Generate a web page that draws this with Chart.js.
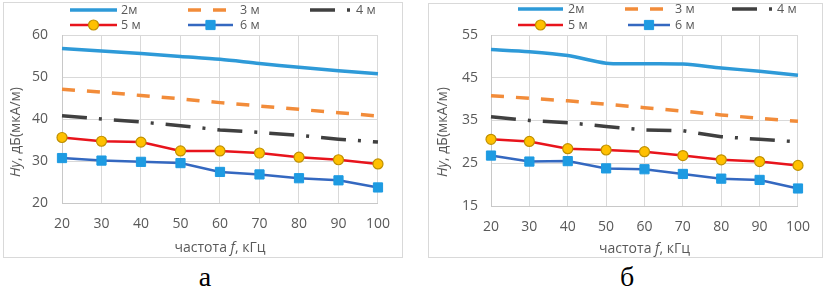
<!DOCTYPE html>
<html>
<head>
<meta charset="utf-8">
<script src="https://cdn.jsdelivr.net/npm/chart.js@4"></script>
<style>
  body { margin: 0; background: #fff; width: 827px; height: 289px; overflow: hidden; position: relative; }
  .box { position: absolute; border: 1px solid #d9d9d9; box-sizing: border-box; }
  canvas { position: absolute; }
  .cap { position: absolute; font-family: "Liberation Serif", serif; font-size: 28px; line-height: 1; width: 40px; text-align: center; color: #000; }
</style>
</head>
<body>
<div class="box" style="left:3px;top:2px;width:400px;height:256px"></div>
<div class="box" style="left:428px;top:3px;width:395px;height:255px"></div>
<canvas id="chartA" width="400" height="256" style="left:3px;top:2px"></canvas>
<canvas id="chartB" width="395" height="255" style="left:428px;top:3px"></canvas>
<div class="cap" style="left:185px;top:263px">а</div>
<div class="cap" style="left:607px;top:263px">б</div>
<script>
const freqLabels = ["20", "30", "40", "50", "60", "70", "80", "90", "100"];
const seriesNames = ["2м", "3 м", "4 м", "5 м", "6 м"];

// chart a
const a2m = [56.8, 56.2, 55.6, 54.9, 54.2, 53.2, 52.3, 51.5, 50.8];
const a3m = [47.1, 46.4, 45.6, 44.8, 43.9, 43.1, 42.3, 41.5, 40.7];
const a4m = [40.8, 40.0, 39.3, 38.4, 37.4, 36.8, 36.1, 35.2, 34.5];
const a5m = [35.6, 34.7, 34.5, 32.4, 32.4, 31.9, 30.9, 30.3, 29.3];
const a6m = [30.7, 30.1, 29.8, 29.5, 27.4, 26.8, 25.9, 25.4, 23.7];

// chart б
const b2m = [51.6, 51.1, 50.2, 48.4, 48.3, 48.2, 47.3, 46.5, 45.6];
const b3m = [40.8, 40.2, 39.6, 38.8, 38.0, 37.2, 36.3, 35.5, 34.8];
const b4m = [35.9, 35.0, 34.5, 33.6, 32.8, 32.6, 31.2, 30.6, 30.0];
const b5m = [30.6, 30.1, 28.4, 28.1, 27.7, 26.8, 25.8, 25.4, 24.5];
const b6m = [26.8, 25.4, 25.5, 23.8, 23.6, 22.5, 21.4, 21.1, 19.1];

const yRangeA = [20, 60];
const yRangeB = [15, 55];

const FONT = "'Open Sans', sans-serif";
const GRAY = "#595959";

function makeSets(v2, v3, v4, v5, v6) {
    return [{
        label: seriesNames[0], data: v2,
        borderColor: "#2E9AD8", borderWidth: 3.5, pointRadius: 0, tension: 0.3
    }, {
        label: seriesNames[1], data: v3,
        borderColor: "#F28C3A", borderWidth: 3.5, borderDash: [13, 12], pointRadius: 0
    }, {
        label: seriesNames[2], data: v4,
        borderColor: "#404040", borderWidth: 3.5, borderDash: [25, 12, 3, 12], pointRadius: 0
    }, {
        label: seriesNames[3], data: v5,
        borderColor: "#E8141C", borderWidth: 2.5,
        pointRadius: 5, pointBackgroundColor: "#FFC000", pointBorderColor: "#BF9000", pointBorderWidth: 1.2
    }, {
        label: seriesNames[4], data: v6,
        borderColor: "#3468C0", borderWidth: 2.5,
        pointStyle: "rect", pointRadius: 6.5, pointBackgroundColor: "#1E9BE2", pointBorderColor: "#1E9BE2", pointBorderWidth: 1
    }];
}

// draws text made of plain / italic parts, centered on x
function drawMixed(ctx, parts, cx, cy) {
    let total = 0;
    parts.forEach(p => {
        ctx.font = (p[1] ? "italic " : "") + "14px " + FONT;
        total += ctx.measureText(p[0]).width;
    });
    let x = cx - total / 2;
    ctx.textAlign = "left";
    ctx.textBaseline = "middle";
    parts.forEach(p => {
        ctx.font = (p[1] ? "italic " : "") + "14px " + FONT;
        ctx.fillText(p[0], x, cy);
        x += ctx.measureText(p[0]).width;
    });
}

const decor = {
    id: "decor",
    afterDraw(chart, args, opts) {
        const ctx = chart.ctx;
        const area = chart.chartArea;
        ctx.save();
        ctx.fillStyle = GRAY;
        drawMixed(ctx, [["частота ", false], ["f", true], [", кГц", false]], (area.left + area.right) / 2, opts.xTitleY);
        ctx.save();
        ctx.translate(opts.yTitleX, opts.yTitleY);
        ctx.rotate(-Math.PI / 2);
        drawMixed(ctx, [["Hy", true], [", дБ(мкА/м)", false]], 0, 0);
        ctx.restore();

        // legend
        opts.items.forEach((it, i) => {
            const ds = chart.data.datasets[i];
            const y = opts.rowY[it.row];
            ctx.save();
            ctx.strokeStyle = ds.borderColor;
            ctx.lineWidth = ds.borderWidth;
            ctx.setLineDash(ds.borderDash || []);
            ctx.beginPath();
            ctx.moveTo(it.x0, y);
            ctx.lineTo(it.x1, y);
            ctx.stroke();
            ctx.restore();
            if (ds.pointRadius > 0) {
                ctx.save();
                ctx.fillStyle = ds.pointBackgroundColor;
                ctx.strokeStyle = ds.pointBorderColor;
                ctx.lineWidth = ds.pointBorderWidth;
                ctx.beginPath();
                const r = ds.pointRadius;
                const mx = (it.x0 + it.x1) / 2;
                if (ds.pointStyle === "rect") {
                    const s = r * Math.SQRT1_2;
                    ctx.rect(mx - s, y - s, 2 * s, 2 * s);
                } else {
                    ctx.arc(mx, y, r, 0, Math.PI * 2);
                }
                ctx.fill();
                ctx.stroke();
                ctx.restore();
            }
            ctx.fillStyle = GRAY;
            ctx.font = "12.5px " + FONT;
            ctx.textAlign = "left";
            ctx.textBaseline = "middle";
            ctx.fillText(ds.label, it.tx, y);
        });
        ctx.restore();
    }
};

function build(id, sets, yRange, lay) {
    return new Chart(document.getElementById(id), {
        type: "line",
        data: { labels: freqLabels, datasets: sets },
        options: {
            responsive: false,
            animation: false,
            layout: { padding: { top: lay.top, right: lay.right, bottom: 0, left: 0 } },
            plugins: {
                legend: { display: false },
                tooltip: { enabled: false },
                decor: lay.decor
            },
            scales: {
                x: {
                    offset: false,
                    grid: { color: "#D9D9D9", drawTicks: false, tickLength: 0 },
                    border: { color: "#C8C8C8" },
                    ticks: { color: GRAY, font: { family: FONT, size: 14 }, padding: 13, maxRotation: 0 },
                    afterFit: s => { s.height = lay.xh; }
                },
                y: {
                    min: yRange[0], max: yRange[1],
                    grid: { color: "#D9D9D9", drawTicks: false, tickLength: 0 },
                    border: { color: "#C8C8C8" },
                    ticks: { stepSize: 10, color: GRAY, font: { family: FONT, size: 14 }, padding: lay.ypad },
                    afterFit: s => { s.width = lay.yw; }
                }
            }
        },
        plugins: [decor]
    });
}

build("chartA", makeSets(a2m, a3m, a4m, a5m, a6m), yRangeA, {
    top: 33, right: 24, xh: 55, yw: 59, ypad: 14,
    decor: {
        xTitleY: 246, yTitleX: 13, yTitleY: 130,
        rowY: [8, 23],
        items: [
            {x0: 67, x1: 114, tx: 118, row: 0},
            {x0: 185, x1: 230, tx: 237, row: 0},
            {x0: 307, x1: 349, tx: 353, row: 0},
            {x0: 67, x1: 114, tx: 118, row: 1},
            {x0: 185, x1: 230, tx: 237, row: 1}
        ]
    }
});

build("chartB", makeSets(b2m, b3m, b4m, b5m, b6m), yRangeB, {
    top: 32, right: 23, xh: 52, yw: 63, ypad: 13,
    decor: {
        xTitleY: 246, yTitleX: 15, yTitleY: 129,
        rowY: [6, 22],
        items: [
            {x0: 90, x1: 135, tx: 140, row: 0},
            {x0: 197, x1: 240, tx: 247, row: 0},
            {x0: 304, x1: 345, tx: 349, row: 0},
            {x0: 90, x1: 135, tx: 140, row: 1},
            {x0: 200, x1: 242, tx: 247, row: 1}
        ]
    }
});
</script>
</body>
</html>
